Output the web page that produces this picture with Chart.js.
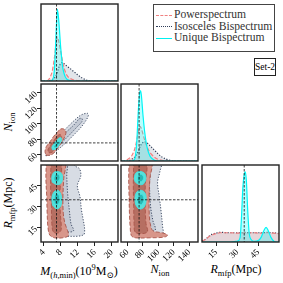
<!DOCTYPE html>
<html>
<head>
<meta charset="utf-8">
<script src="https://cdn.jsdelivr.net/npm/chart.js@4.4.0/dist/chart.umd.min.js"></script>
<style>
  body { margin: 0; width: 283px; height: 283px; overflow: hidden; position: relative; background: #fff;
         font-family: 'Liberation Serif', 'DejaVu Serif', serif; color: #000; }
  canvas { position: absolute; }
  .lab { position: absolute; font-size: 12px; white-space: nowrap; line-height: 1; }
  .lab sub, .lab sup { font-size: 8.5px; }
  .bx { transform: translateX(-50%); }
  .ry { transform: translate(-50%, -50%) rotate(-90deg); }
  #legend { position: absolute; left: 153px; top: 4px; width: 122px; height: 48px; box-sizing: border-box;
            border: 1px solid #444; background: #fff; }
  #legend .row { position: absolute; left: 2px; font-size: 11.6px; line-height: 12px; color: #333; white-space: nowrap; }
  #legend .smp { display: inline-block; width: 16px; margin-right: 2px; vertical-align: middle; }
  #set { position: absolute; left: 254px; top: 58px; width: 22px; height: 18px; box-sizing: border-box;
         border: 1px solid #222; font-size: 9.5px; line-height: 16px; text-align: center; white-space: nowrap; }
</style>
</head>
<body>
<div id="legend">
  <div class="row" style="top:4px"><span class="smp" style="border-top:1.6px dashed #f08080"></span>Powerspectrum</div>
  <div class="row" style="top:15.5px"><span class="smp" style="border-top:1.5px dotted #2f3d58"></span>Isosceles Bispectrum</div>
  <div class="row" style="top:27px"><span class="smp" style="border-top:1.5px solid #00f0f0"></span>Unique Bispectrum</div>
</div>
<div id="set">Set-2</div>

<div class="lab bx" style="left:79px;top:263px"><i>M</i><sub>(<i>h</i>,min)</sub>(10<sup>9</sup>M<sub>⊙</sub>)</div>
<div class="lab bx" style="left:160px;top:263px"><i>N</i><sub>ion</sub></div>
<div class="lab bx" style="left:236px;top:263px"><i>R</i><sub>mfp</sub>(Mpc)</div>
<div class="lab ry" style="left:9px;top:122px"><i>N</i><sub>ion</sub></div>
<div class="lab ry" style="left:9px;top:203px"><i>R</i><sub>mfp</sub>(Mpc)</div>

<script>
// tick labels and true values
const mTicks = [4, 8, 12, 16, 20];
const nTicks = [60, 80, 100, 120, 140];
const rTicks = [15, 30, 45];
const truthM = 7.0, truthN = 75, truthR = 35;
const mRange = [3.35, 21.45], nRange = [51.5, 151.5], rRange = [5, 59.7];

// 1D marginals (normalised heights)
const mGrid    = [3.35, 4, 5, 5.5, 6, 6.5, 7, 7.2, 7.5, 8, 8.3, 8.5, 9, 9.5, 10, 11, 12, 13, 14, 15, 16, 18, 21.45];
const mUnique  = [0, 0, 0, 0, 0.01, 0.15, 0.75, 0.93, 0.8, 0.42, 0.25, 0.16, 0.06, 0.02, 0.01, 0, 0, 0, 0, 0, 0, 0, 0];
const mPower   = [0, 0, 0.01, 0.05, 0.13, 0.3, 0.53, 0.57, 0.52, 0.38, 0.29, 0.23, 0.13, 0.07, 0.04, 0.015, 0.005, 0, 0, 0, 0, 0, 0];
const mIso     = [0, 0, 0, 0.01, 0.02, 0.04, 0.08, 0.11, 0.17, 0.23, 0.24, 0.235, 0.215, 0.19, 0.17, 0.125, 0.08, 0.04, 0.012, 0, 0, 0, 0];

const nGrid    = [51.5, 55, 60, 65, 68, 70, 72, 74, 76, 77, 78, 80, 82, 84, 86, 88, 90, 95, 100, 105, 110, 115, 120, 151.5];
const nUnique  = [0, 0, 0, 0, 0.01, 0.05, 0.25, 0.65, 0.9, 0.91, 0.85, 0.6, 0.4, 0.25, 0.15, 0.09, 0.05, 0.01, 0, 0, 0, 0, 0, 0];
const nPower   = [0, 0, 0.02, 0.06, 0.12, 0.18, 0.27, 0.38, 0.45, 0.44, 0.42, 0.35, 0.28, 0.22, 0.17, 0.13, 0.1, 0.05, 0.02, 0.01, 0, 0, 0, 0];
const nIso     = [0, 0, 0, 0.02, 0.04, 0.06, 0.09, 0.13, 0.18, 0.2, 0.22, 0.24, 0.25, 0.24, 0.23, 0.21, 0.19, 0.14, 0.09, 0.05, 0.025, 0.01, 0, 0];

const rGrid    = [5, 8, 10, 12, 15, 18, 25, 30, 32, 33, 34, 35, 35.7, 36.5, 37.5, 38.5, 40, 42, 45, 47, 49, 50.5, 52, 54, 56, 58, 59.7];
const rPower   = [0.01, 0.04, 0.07, 0.09, 0.11, 0.12, 0.12, 0.115, 0.115, 0.115, 0.12, 0.12, 0.12, 0.12, 0.12, 0.12, 0.12, 0.12, 0.115, 0.115, 0.12, 0.12, 0.12, 0.115, 0.115, 0.11, 0.11];
const rIso     = [0.01, 0.045, 0.075, 0.1, 0.115, 0.125, 0.12, 0.12, 0.12, 0.12, 0.12, 0.125, 0.125, 0.125, 0.12, 0.12, 0.12, 0.12, 0.12, 0.12, 0.12, 0.125, 0.125, 0.12, 0.12, 0.115, 0.11];
const rUnique  = [0, 0, 0, 0, 0, 0, 0, 0.01, 0.05, 0.3, 0.7, 0.88, 0.91, 0.8, 0.4, 0.12, 0.03, 0.01, 0.02, 0.06, 0.15, 0.19, 0.15, 0.06, 0.01, 0, 0];

// 2D contours, [x, y] in data units (outer = 95%, inner = 68%)
const mnIsoOuter   = [[4.5,58.3],[5.5,59.5],[6.7,63.5],[8.8,73.2],[10.8,84],[12.7,95],[13.9,104],[14.5,111],[14.2,113.5],[12.7,111],[11.1,103.8],[9.1,93],[7.2,82],[5.4,70],[4.5,62]];
const mnIsoInner   = [[5.3,61.5],[6.2,63.5],[7.8,73],[9.8,84],[11.7,95],[13.0,103],[13.0,106.5],[12.4,106.5],[11.1,98.5],[9.1,88],[7.2,77],[5.5,67],[5.0,63.5]];
const mnPowerOuter = [[4.5,59],[5.6,59.2],[6.5,62.7],[7.4,69.2],[8.2,75.7],[8.9,82.5],[9.2,89],[8.7,93],[7.9,93],[7.3,89.5],[6.3,83.3],[5.5,76.8],[4.6,70.3],[4.3,64]];
const mnPowerInner = [[5.2,62],[6.0,63],[6.9,69],[7.7,75.5],[8.2,82],[7.9,86],[7.2,84],[6.4,78],[5.6,72],[5.0,66]];
const mnUniOuter   = [[6.1,66],[6.7,66.8],[7.3,70],[7.8,74.5],[8.2,79],[8.0,82],[7.5,81],[6.9,77.5],[6.3,73],[5.9,69]];
const mnUniInner   = [[6.5,68.5],[7.0,69.5],[7.5,73.5],[7.6,77],[7.2,76.5],[6.7,73],[6.4,70.5]];

const mrIsoOuter   = [[5.0,62],[4.9,50],[5.0,35],[5.1,20],[5.5,12],[6.5,9.5],[10,9],[13.3,10],[13.6,14],[13.2,22],[12.85,28],[12.5,37.4],[11.9,45],[12.7,52],[12.4,57],[11.3,59.2],[11.2,62]];
const mrIsoInner   = [[5.3,62],[5.2,45],[5.4,25],[5.8,15],[7,12.5],[9.5,12],[11,13],[10.4,18],[10,28],[9.6,40],[9.4,52],[9.3,62]];
const mrPowerOuter = [[4.6,62],[4.5,50],[4.7,37],[4.8,25],[5.0,15],[5.4,10],[6.5,8],[8.5,8],[9.8,9.5],[9.6,13],[9.0,18],[8.6,25],[8.5,37],[8.7,50],[8.9,62]];
const mrPowerInner = [[5.7,62],[5.6,45],[5.8,30],[5.9,18],[6.3,12],[7.5,11.5],[8.1,14],[7.9,25],[7.8,40],[8.0,62]];
const mrUniOuterA  = [[6.0,47.5],[7.0,45.8],[8.0,46.5],[8.4,50],[8.2,53.5],[7.4,55],[6.4,54.5],[5.9,51]];
const mrUniInnerA  = [[6.5,48.5],[7.3,48],[7.8,50.5],[7.5,53],[6.8,53],[6.4,50.5]];
const mrUniOuterB  = [[6.1,31],[7.0,28.5],[7.9,30],[8.2,34.5],[8.0,39],[7.3,41.7],[6.4,40.5],[5.9,36]];
const mrUniInnerB  = [[6.5,32.5],[7.2,31.5],[7.7,34],[7.6,38],[7,39.5],[6.5,37]];

const nrIsoOuter   = [[63.5,62],[63,45],[63.5,30],[64.5,18],[66.5,11],[75,9.5],[100,9.5],[106,11],[105.5,16],[103.3,28],[101.2,37.4],[99,47.4],[102,55],[103.3,62]];
const nrIsoInner   = [[65.5,62],[65,40],[66.5,22],[69,14],[85,12.5],[96,13.5],[93,20],[90,30],[88.5,45],[88,62]];
const nrPowerOuter = [[62,62],[61.5,50],[62,37],[62.5,25],[63.5,15],[65,9.5],[70,8],[90,8],[108,8.5],[112,10],[105,11.5],[93,13],[89.5,18],[88.2,25],[88,37],[89,50],[90.5,62]];
const nrPowerInner = [[68,62],[67.5,45],[68,30],[68.5,18],[70,12],[80,11],[86,12.5],[84,18],[83,30],[83,45],[84,62]];
const nrUniOuterA  = [[69.5,48],[74,46],[80,46],[83.5,49],[83,53],[78,55],[72,54.5],[69,51.5]];
const nrUniInnerA  = [[73,48.5],[78,48],[81,50.5],[78.5,53],[74,52.5]];
const nrUniOuterB  = [[70.5,31.5],[75,28.5],[81,29.5],[84,34],[83,39.5],[78,41.7],[72,40.5],[69.5,36]];
const nrUniInnerB  = [[73.5,32.5],[78,31.5],[81,34.5],[79.5,38.5],[75,38.5],[73,35.5]];

const sty = {
  power: { line: '#f08080', dash: [4, 2],     fill: 'rgba(240,128,128,0.16)', outer: '#d8968a', inner: '#b66f62', edge: '#a9554a' },
  iso:   { line: '#2f3d58', dash: [1.2, 1.6], fill: 'rgba(150,160,180,0.28)', outer: '#d7dce4', inner: '#c3c9d4', edge: '#2f3d58' },
  uni:   { line: '#00f5f5', dash: [],         fill: 'rgba(0,255,255,0.28)',   outer: '#5ae0d8', inner: '#2ab8b4', edge: '#40e8e8' }
};

const curve = (g, v) => g.map((x, i) => ({ x: x, y: v[i] }));
const closed = a => a.concat([a[0]]).map(p => ({ x: p[0], y: p[1] }));

function density(g, v, s) {
  return { data: curve(g, v), fill: 'origin', backgroundColor: s.fill, borderColor: s.line, borderDash: s.dash,
           borderWidth: 1.2, cubicInterpolationMode: 'monotone', pointRadius: 0 };
}
function contour(poly, s, inner) {
  return { data: closed(poly), fill: 'shape', backgroundColor: inner ? s.inner : s.outer, borderColor: s.edge,
           borderDash: s.dash, borderWidth: 0.9, tension: 0.35, pointRadius: 0 };
}

// truth lines and the panel frame
const framePlugin = {
  id: 'frame',
  afterDatasetsDraw(chart, args, o) {
    const { ctx, chartArea: a, scales } = chart;
    ctx.save();
    ctx.strokeStyle = '#111'; ctx.lineWidth = 0.8; ctx.setLineDash([2.5, 1.5]);
    if (o.tx != null) {
      const px = scales.x.getPixelForValue(o.tx);
      ctx.beginPath(); ctx.moveTo(px, a.top); ctx.lineTo(px, a.bottom); ctx.stroke();
    }
    if (o.ty != null) {
      const py = scales.y.getPixelForValue(o.ty);
      ctx.beginPath(); ctx.moveTo(a.left, py); ctx.lineTo(a.right, py); ctx.stroke();
    }
    ctx.setLineDash([]); ctx.lineWidth = 1.4; ctx.strokeStyle = '#222';
    ctx.strokeRect(a.left, a.top, a.right - a.left, a.bottom - a.top);
    ctx.restore();
  }
};

const colL = [41, 121, 202], rowT = [4, 84, 165], W = 77, H = 77, PAD = 10, YW = 26, XH = 30;
const tickFont = { family: "'Liberation Serif', 'DejaVu Serif', serif", size: 9 };

function axis(range, ticks, key, size) {
  return {
    type: 'linear', min: range[0], max: range[1], display: !!ticks,
    afterBuildTicks: s => { if (ticks) s.ticks = ticks.map(v => ({ value: v })); },
    afterFit: s => { s[key] = ticks ? size : 0; },
    ticks: { autoSkip: false, minRotation: 45, maxRotation: 45, font: tickFont, color: '#000', padding: 1 },
    grid: { drawOnChartArea: false, drawTicks: true, tickLength: 4, color: '#222', lineWidth: 1 },
    border: { display: false }
  };
}

function panel(col, row, o) {
  const yw = o.yt ? YW : 0, xh = o.xt ? XH : 0;
  const c = document.createElement('canvas');
  c.width = W + yw + 2 * PAD;
  c.height = H + xh + 2 * PAD;
  c.style.left = (colL[col] - PAD - yw) + 'px';
  c.style.top = (rowT[row] - PAD) + 'px';
  document.body.appendChild(c);
  new Chart(c, {
    type: 'line',
    data: { datasets: o.datasets },
    options: {
      responsive: false, animation: false, devicePixelRatio: 1,
      layout: { padding: PAD },
      plugins: { legend: { display: false }, tooltip: { enabled: false }, frame: { tx: o.tx, ty: o.ty } },
      scales: { x: axis(o.xr, o.xt, 'height', XH), y: axis(o.yr, o.yt, 'width', YW) }
    },
    plugins: [framePlugin]
  });
}

const unit = [0, 1];

panel(0, 0, { xr: mRange, yr: unit, tx: truthM, datasets: [
  density(mGrid, mUnique, sty.uni), density(mGrid, mPower, sty.power), density(mGrid, mIso, sty.iso)] });

panel(1, 1, { xr: nRange, yr: unit, tx: truthN, datasets: [
  density(nGrid, nUnique, sty.uni), density(nGrid, nPower, sty.power), density(nGrid, nIso, sty.iso)] });

panel(2, 2, { xr: rRange, yr: unit, xt: rTicks, tx: truthR, datasets: [
  density(rGrid, rUnique, sty.uni), density(rGrid, rPower, sty.power), density(rGrid, rIso, sty.iso)] });

panel(0, 1, { xr: mRange, yr: nRange, yt: nTicks, tx: truthM, ty: truthN, datasets: [
  contour(mnUniInner, sty.uni, true), contour(mnUniOuter, sty.uni, false),
  contour(mnPowerInner, sty.power, true), contour(mnPowerOuter, sty.power, false),
  contour(mnIsoInner, sty.iso, true), contour(mnIsoOuter, sty.iso, false)] });

panel(0, 2, { xr: mRange, yr: rRange, xt: mTicks, yt: rTicks, tx: truthM, ty: truthR, datasets: [
  contour(mrUniInnerA, sty.uni, true), contour(mrUniOuterA, sty.uni, false),
  contour(mrUniInnerB, sty.uni, true), contour(mrUniOuterB, sty.uni, false),
  contour(mrPowerInner, sty.power, true), contour(mrPowerOuter, sty.power, false),
  contour(mrIsoInner, sty.iso, true), contour(mrIsoOuter, sty.iso, false)] });

panel(1, 2, { xr: nRange, yr: rRange, xt: nTicks, tx: truthN, ty: truthR, datasets: [
  contour(nrUniInnerA, sty.uni, true), contour(nrUniOuterA, sty.uni, false),
  contour(nrUniInnerB, sty.uni, true), contour(nrUniOuterB, sty.uni, false),
  contour(nrPowerInner, sty.power, true), contour(nrPowerOuter, sty.power, false),
  contour(nrIsoInner, sty.iso, true), contour(nrIsoOuter, sty.iso, false)] });
</script>
</body>
</html>
